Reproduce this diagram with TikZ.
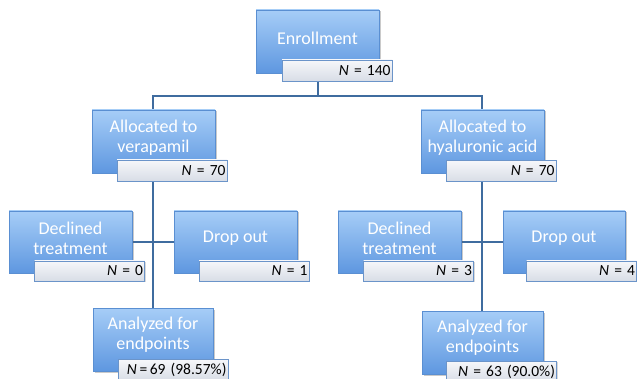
\documentclass[tikz,border=0pt]{standalone}
\usepackage{fontspec}
\setmainfont{Carlito}
\usetikzlibrary{backgrounds,shadows}
\definecolor{boxtop}{HTML}{A6CDF7}
\definecolor{boxmid}{HTML}{8CBAF0}
\definecolor{boxbot}{HTML}{5E97E0}
\definecolor{boxedge}{HTML}{5A8FD2}
\definecolor{lblborder}{HTML}{6B94C9}
\definecolor{lbltop}{HTML}{F6F7FA}
\definecolor{lblbot}{HTML}{D8DDE6}
\definecolor{linkc}{HTML}{3F6C9F}
\tikzset{
  bx/.style={rectangle, draw=boxedge, line width=0.5pt, top color=boxtop, middle color=boxmid, bottom color=boxbot,
    minimum width=123, minimum height=63, inner sep=0pt,
    drop shadow={shadow xshift=1.5pt, shadow yshift=-1.5pt, opacity=0.35, fill=black!60}},
  bxtext/.style={text=white, font=\fontsize{18}{20}\selectfont, align=center, inner sep=0pt},
  lbl/.style={rectangle, draw=lblborder, line width=0.8pt, top color=lbltop, bottom color=lblbot,
    minimum width=110, minimum height=21, text width=107, align=right, inner xsep=1.5pt, inner ysep=1pt,
    font=\fontsize{15.5}{18}\selectfont,
    drop shadow={shadow xshift=1pt, shadow yshift=-1pt, opacity=0.25, fill=black!60}},
  link/.style={draw=linkc, line width=2.4pt}
}
\begin{document}
\begin{tikzpicture}[x=1pt,y=-1pt]
\useasboundingbox (0,0) rectangle (637,379);
% boxes
\node[bx] (enroll) at (317.5,41.5) {};
\node[bxtext] (enrollT) at (317.5,38) {Enrollment};
\node[lbl] (enrollN) at (337,70.5) {\textit{N} = 140};

\node[bx] (allocV) at (153.5,141.5) {};
\node[bxtext] (allocVT) at (153.5,138) {Allocated to\\verapamil};
\node[lbl] (allocVN) at (172,170.5) {\textit{N} = 70};

\node[bx] (allocH) at (482.5,141.5) {};
\node[bxtext] (allocHT) at (482.5,138) {Allocated to\\hyaluronic acid};
\node[lbl] (allocHN) at (501,171) {\textit{N} = 70};

\node[bx, minimum height=62] (declV) at (70.5,242) {};
\node[bxtext] (declVT) at (70.5,238) {Declined\\treatment};
\node[lbl, minimum height=20] (declVN) at (89.5,271) {\textit{N} = 0};

\node[bx, minimum height=62] (dropV) at (235.5,242) {};
\node[bxtext] (dropVT) at (235.5,238) {Drop out};
\node[lbl, minimum height=20] (dropVN) at (254,271) {\textit{N} = 1};

\node[bx, minimum width=120] (anaV) at (153,339.5) {};
\node[bxtext] (anaVT) at (153,335) {Analyzed for\\endpoints};
\node[lbl] (anaVN) at (173,370) {\mbox{\textit{N}\,=\,69 (98.57\%)}};

\node[bx, minimum height=62] (declH) at (399.5,242) {};
\node[bxtext] (declHT) at (399.5,238) {Declined\\treatment};
\node[lbl, minimum height=20] (declHN) at (418.5,271) {\textit{N} = 3};

\node[bx, minimum height=62, minimum width=122] (dropH) at (564,242) {};
\node[bxtext] (dropHT) at (564,238) {Drop out};
\node[lbl, minimum height=20] (dropHN) at (581.5,271) {\textit{N} = 4};

\node[bx, minimum width=121] (anaH) at (482.5,342.5) {};
\node[bxtext] (anaHT) at (482.5,338) {Analyzed for\\endpoints};
\node[lbl] (anaHN) at (501.5,371.5) {\mbox{\textit{N} = 63 (90.0\%)}};

\coordinate (jV) at (153,96);
\coordinate (jH) at (482,96);
\coordinate (jE) at (318,96);
\coordinate (cV) at (153,242);
\coordinate (cH) at (482,242);

\begin{scope}[on background layer]
\draw[link] (enrollN.south -| jE) -- (jE);
\draw[link] (allocV.north -| jV) -- (jV) -- (jH) -- (allocH.north -| jH);
\draw[link] (allocVN.south -| cV) -- (anaV.north -| cV);
\draw[link] (declV.east) -- (dropV.west);
\draw[link] (allocHN.south -| cH) -- (anaH.north -| cH);
\draw[link] (declH.east) -- (dropH.west);
\end{scope}
\end{tikzpicture}
\end{document}
